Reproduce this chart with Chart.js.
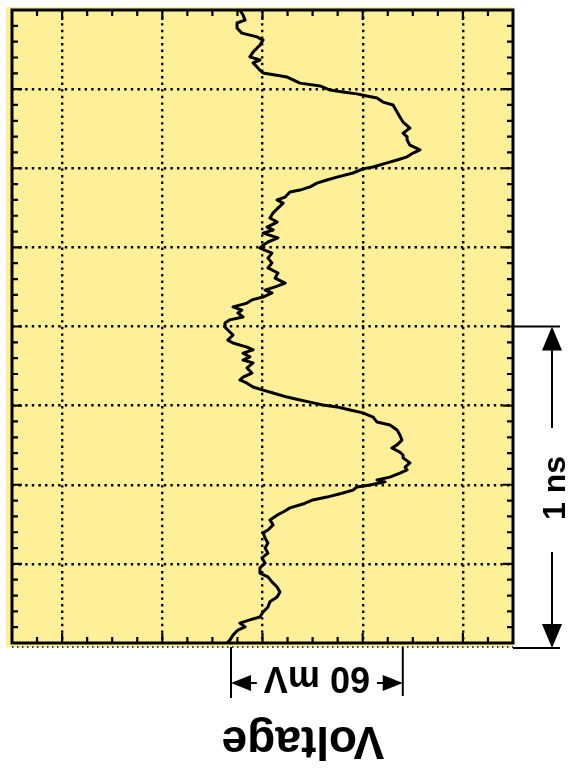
<!DOCTYPE html>
<html>
<head>
<meta charset="utf-8">
<script src="https://cdn.jsdelivr.net/npm/chart.js@4.4.1/dist/chart.umd.min.js"></script>
<style>
  html, body { margin: 0; padding: 0; background: #fff; }
  #wrap { width: 569px; height: 781px; position: relative; }
</style>
</head>
<body>
<div id="wrap"><canvas id="scope"></canvas></div>
<script>
// trace: time (ns, top to bottom) and voltage (mV)
const timeNs = [
  0.000, 0.016, 0.032, 0.041, 0.057, 0.073, 0.085, 0.095, 0.111, 0.120,
  0.133, 0.148, 0.158, 0.167, 0.180, 0.190, 0.199, 0.212, 0.221, 0.231,
  0.240, 0.253, 0.259, 0.265, 0.272, 0.278, 0.291, 0.300, 0.322, 0.338,
  0.354, 0.373, 0.389,
  0.401, 0.411, 0.427, 0.442, 0.452, 0.464, 0.474, 0.483, 0.496, 0.502,
  0.515, 0.528, 0.537, 0.547, 0.559, 0.569, 0.575, 0.591, 0.600, 0.610,
  0.626, 0.641, 0.657, 0.670, 0.686, 0.695, 0.705, 0.720, 0.733, 0.743,
  0.752, 0.768, 0.784,
  0.799, 0.815, 0.831, 0.847, 0.863, 0.875, 0.885, 0.894, 0.907, 0.916,
  0.926, 0.938, 0.948, 0.957, 0.970, 0.979, 0.989, 1.002, 1.011, 1.027,
  1.043, 1.052, 1.065, 1.074, 1.084, 1.096, 1.106, 1.115, 1.131, 1.147,
  1.160, 1.169,
  1.179, 1.191, 1.201, 1.210, 1.223, 1.232, 1.239, 1.248, 1.254, 1.264,
  1.273, 1.286, 1.302, 1.311, 1.327, 1.343, 1.359, 1.374, 1.384, 1.397,
  1.406, 1.415, 1.431, 1.444, 1.453, 1.463, 1.476, 1.485, 1.491, 1.501,
  1.507, 1.517, 1.526, 1.539, 1.548, 1.561,
  1.573, 1.586, 1.596, 1.611, 1.627, 1.643, 1.652, 1.668, 1.684, 1.700,
  1.716, 1.731, 1.747, 1.763, 1.779, 1.791, 1.807, 1.823, 1.839, 1.855,
  1.870, 1.886, 1.902, 1.918, 1.927, 1.937, 1.949, 1.959, 1.975, 1.991,
  2.000
];
const voltageMv = [
  -7.9, -6.8, -6.1, -8.9, -8.9, -7.2, -1.9, 0.2, -0.9, -1.9,
  -3.3, -4.4, -0.9, -3.3, -1.9, -0.9, 0.2, 8.6, 10.7, 13.1,
  20.1, 23.6, 28.1, 33.0, 36.5, 40.0, 42.1, 45.6, 47.0, 48.0,
  49.1, 51.5, 49.1,
  50.5, 50.5, 51.5, 55.0, 52.6, 50.5, 47.0, 43.5, 38.6, 35.1,
  31.6, 26.0, 22.5, 19.0, 16.6, 13.1, 9.6, 7.9, 5.1, 7.2,
  5.4, 3.7, 2.6, 5.1, 1.6, 3.7, 0.2, 5.4, 1.9, 0.2,
  -0.9, 3.3, 1.9,
  3.3, 1.9, 5.4, 4.4, 7.9, 4.4, 0.9, 3.3, 0.2, -3.7,
  -5.4, -10.3, -7.2, -8.6, -6.8, -11.4, -13.1, -13.1, -12.1, -10.3,
  -12.1, -10.3, -5.4, -3.3, -6.8, -4.4, -6.8, -3.3, -5.4, -3.7,
  -6.8, -7.9,
  -5.4, -3.3, 0.2, 3.7, 8.6, 13.1, 16.6, 21.1, 26.0, 30.6,
  35.1, 38.6, 40.0, 44.5, 47.0, 48.0, 48.7, 47.0, 45.2, 48.0,
  49.1, 49.1, 51.5, 49.8, 50.5, 48.0, 44.5, 40.0, 42.8, 37.5,
  33.0, 31.6, 28.1, 22.5, 17.6, 14.1,
  9.6, 7.2, 5.1, 2.6, 3.7, 1.9, 0.2, 0.9, 1.9, 0.9,
  1.9, -0.2, 0.9, -0.9, -0.9, 1.9, 3.3, 5.1, 6.1, 5.1,
  2.6, 1.9, 0.2, -0.9, -4.4, -7.9, -6.1, -8.6, -10.3, -11.4,
  -12.4
];

// screen divisions
const voltGrid = [-70, -35, 0, 35, 70];
const timeGrid = [0.25, 0.5, 0.75, 1.0, 1.25, 1.5, 1.75];
const voltRange = [-87.5, 87.5];
const timeRange = [0, 2];
const voltMinorStep = 8.75;
const timeMinorStep = 0.05;

// scale markers
const voltMarker = [-11, 49];   // 60 mV
const timeMarker = [1, 2];      // 1 ns

const paper = 'rgb(254, 240, 152)';
const boldFont = (px) => `bold ${px}px "Liberation Sans", Arial, sans-serif`;

function arrowHead(ctx, x, y, dx, dy, len, half) {
  // tip at (x, y), pointing along (dx, dy)
  ctx.beginPath();
  ctx.moveTo(x, y);
  ctx.lineTo(x - dx * len - dy * half, y - dy * len + dx * half);
  ctx.lineTo(x - dx * len + dy * half, y - dy * len - dx * half);
  ctx.closePath();
  ctx.fill();
}

const screenFrame = {
  id: 'screenFrame',
  beforeDraw(chart) {
    const { ctx, chartArea: a } = chart;
    ctx.save();
    ctx.fillStyle = paper;
    ctx.fillRect(a.left - 6, a.top - 3, a.right - a.left + 6, a.bottom - a.top + 7);
    ctx.restore();
  },
  afterDatasetsDraw(chart) {
    const { ctx, chartArea: a } = chart;
    const xs = chart.scales.x;
    const ys = chart.scales.y;
    ctx.save();
    ctx.strokeStyle = '#000';
    ctx.fillStyle = '#000';

    // dotted line under the bottom edge
    ctx.lineWidth = 1.5;
    ctx.setLineDash([1.5, 3.5]);
    ctx.beginPath();
    ctx.moveTo(a.left, a.bottom + 4);
    ctx.lineTo(a.right, a.bottom + 4);
    ctx.stroke();
    ctx.setLineDash([]);

    // frame
    ctx.lineWidth = 3;
    ctx.strokeRect(a.left, a.top, a.right - a.left, a.bottom - a.top);

    // inward ticks
    ctx.lineWidth = 2.2;
    ctx.beginPath();
    for (let v = voltRange[0] + voltMinorStep; v < voltRange[1] - 0.01; v += voltMinorStep) {
      const px = xs.getPixelForValue(v);
      const major = voltGrid.some(g => Math.abs(g - v) < 0.01);
      const len = major ? 10 : 6;
      ctx.moveTo(px, a.top); ctx.lineTo(px, a.top + len);
      ctx.moveTo(px, a.bottom); ctx.lineTo(px, a.bottom - len);
    }
    for (let t = timeRange[0] + timeMinorStep; t < timeRange[1] - 0.001; t += timeMinorStep) {
      const py = ys.getPixelForValue(t);
      const major = timeGrid.some(g => Math.abs(g - t) < 0.001);
      const len = major ? 10 : 6;
      ctx.moveTo(a.left, py); ctx.lineTo(a.left + len, py);
      ctx.moveTo(a.right, py); ctx.lineTo(a.right - len, py);
    }
    ctx.stroke();

    // 60 mV marker
    const x1 = xs.getPixelForValue(voltMarker[0]);
    const x2 = xs.getPixelForValue(voltMarker[1]);
    const my = 683;
    const label = '60 mV';
    ctx.font = boldFont(36);
    const tw = ctx.measureText(label).width;
    const mid = (x1 + x2) / 2;
    ctx.lineWidth = 2;
    ctx.beginPath();
    ctx.moveTo(x1, a.bottom + 4); ctx.lineTo(x1, 698);
    ctx.moveTo(x2, a.bottom + 4); ctx.lineTo(x2, 696);
    ctx.moveTo(x1 + 10, my); ctx.lineTo(mid - tw / 2 - 7, my);
    ctx.moveTo(mid + tw / 2 + 7, my); ctx.lineTo(x2 - 10, my);
    ctx.stroke();
    arrowHead(ctx, x1, my, -1, 0, 20, 8);
    arrowHead(ctx, x2, my, 1, 0, 20, 8);
    ctx.save();
    ctx.translate(mid, 667);
    ctx.rotate(Math.PI);
    ctx.textAlign = 'center';
    ctx.textBaseline = 'alphabetic';
    ctx.fillText(label, 0, 0);
    ctx.restore();

    // axis name, upside down
    ctx.save();
    ctx.font = boldFont(46);
    ctx.translate(303, 727);
    ctx.rotate(Math.PI);
    ctx.textAlign = 'center';
    ctx.textBaseline = 'alphabetic';
    ctx.fillText('Voltage', 0, 0);
    ctx.restore();

    // 1 ns marker
    const y1 = ys.getPixelForValue(timeMarker[0]);
    const y2 = ys.getPixelForValue(timeMarker[1]) + 5;
    const ax = 552;
    ctx.lineWidth = 2;
    ctx.beginPath();
    ctx.moveTo(a.right, y1); ctx.lineTo(560, y1);
    ctx.moveTo(a.right, y2); ctx.lineTo(560, y2);
    ctx.moveTo(ax, y1 + 20); ctx.lineTo(ax, 428);
    ctx.moveTo(ax, 552); ctx.lineTo(ax, y2 - 20);
    ctx.stroke();
    arrowHead(ctx, ax, y1, 0, -1, 24, 10);
    arrowHead(ctx, ax, y2, 0, 1, 24, 10);
    ctx.save();
    ctx.font = boldFont(32);
    ctx.translate(565, 488);
    ctx.rotate(-Math.PI / 2);
    ctx.textAlign = 'center';
    ctx.textBaseline = 'alphabetic';
    ctx.fillText('1 ns', 0, 0);
    ctx.restore();

    ctx.restore();
  }
};

const points = timeNs.map((t, i) => ({ x: voltageMv[i], y: t }));

new Chart(document.getElementById('scope'), {
  type: 'scatter',
  data: {
    datasets: [{
      data: points,
      showLine: true,
      borderColor: '#000',
      borderWidth: 3,
      borderJoinStyle: 'round',
      pointRadius: 0,
      tension: 0
    }]
  },
  options: {
    responsive: true,
    maintainAspectRatio: false,
    animation: false,
    layout: { padding: { left: 12, top: 10, right: 56, bottom: 138 } },
    plugins: { legend: { display: false }, tooltip: { enabled: false } },
    scales: {
      x: {
        type: 'linear',
        min: voltRange[0],
        max: voltRange[1],
        afterBuildTicks: (s) => { s.ticks = voltGrid.map(v => ({ value: v })); },
        ticks: { display: false },
        grid: { color: '#000', lineWidth: 2.4, drawTicks: false },
        border: { display: false, dash: [2.4, 4.2] }
      },
      y: {
        type: 'linear',
        reverse: true,
        min: timeRange[0],
        max: timeRange[1],
        afterBuildTicks: (s) => { s.ticks = timeGrid.map(v => ({ value: v })); },
        ticks: { display: false },
        grid: { color: '#000', lineWidth: 2.4, drawTicks: false },
        border: { display: false, dash: [2.4, 4.2] }
      }
    }
  },
  plugins: [screenFrame]
});
</script>
</body>
</html>
